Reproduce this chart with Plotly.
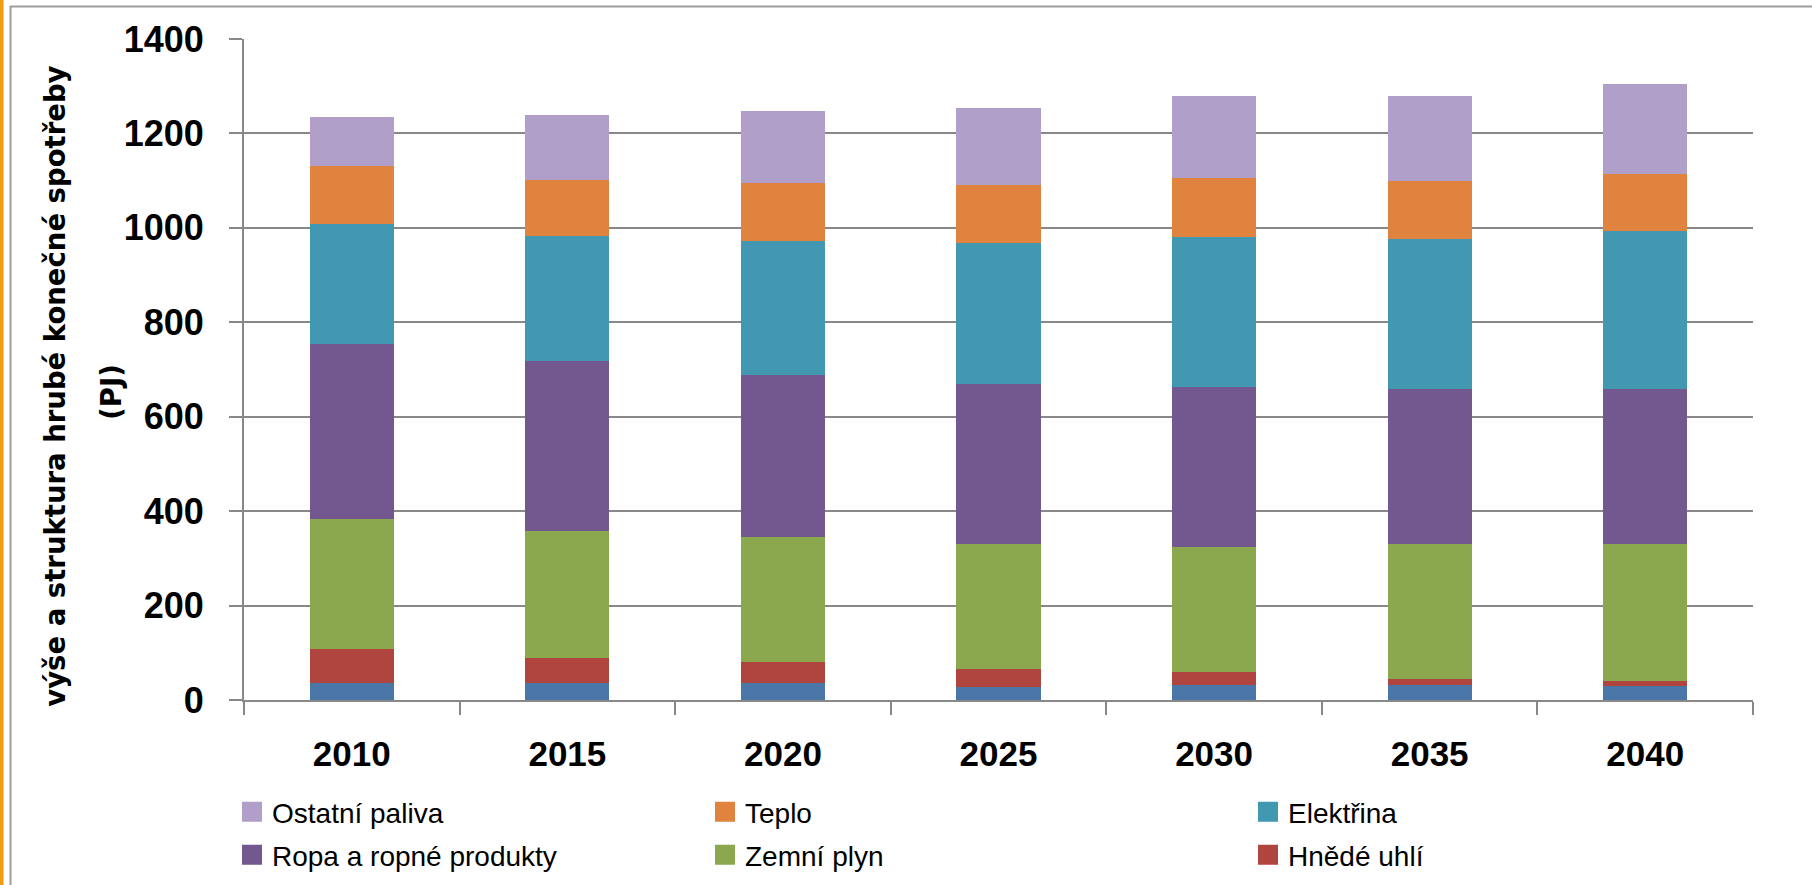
import plotly.graph_objects as go

# Years on the category axis
years = ["2010", "2015", "2020", "2025", "2030", "2035", "2040"]

# Segment heights in PJ, stacked bottom to top
cerne_uhli = [35, 35, 35, 27, 32, 32, 30]
hnede_uhli = [74, 54, 45, 39, 28, 13, 11]
zemni_plyn = [274, 270, 265, 264, 265, 286, 290]
ropa = [371, 360, 344, 339, 337, 327, 327]
elektrina = [254, 264, 284, 299, 319, 319, 336]
teplo = [124, 118, 123, 123, 125, 122, 121]
ostatni = [102, 138, 152, 162, 174, 181, 190]

y_ticks = [0, 200, 400, 600, 800, 1000, 1200, 1400]

W, H = 1812, 885
PL, PR, PT, PB = 244, 1753, 39, 700.5   # plot area in pixels

GRID = "#888888"
FONT = "Liberation Sans"

# legend grid: column left edges and row centres (px)
LEG_COLS = [232, 705, 1248]
LEG_ROWS = [812, 855]

# name, values, colour, (column, row) of the legend key
series = [
    ("Černé uhlí", cerne_uhli, "#4A76A8", None),
    ("Hnědé uhlí", hnede_uhli, "#B0443F", (2, 1)),
    ("Zemní plyn", zemni_plyn, "#8CA84E", (1, 1)),
    ("Ropa a ropné produkty", ropa, "#72588F", (0, 1)),
    ("Elektřina", elektrina, "#4297B1", (2, 0)),
    ("Teplo", teplo, "#DF833E", (1, 0)),
    ("Ostatní paliva", ostatni, "#B09FC8", (0, 0)),
]

fig = go.Figure()
for name, vals, color, pos in series:
    fig.add_trace(go.Bar(
        x=years, y=vals, name=name, marker=dict(color=color, line=dict(width=0)),
        showlegend=False, hoverinfo="x+y+name",
    ))

# one single-entry legend per key, so each sits in its own grid cell
legends = {}
k = 0
for name, vals, color, pos in series:
    if pos is None:
        continue
    k += 1
    lid = "legend" if k == 1 else f"legend{k}"
    col, row = pos
    legends[lid] = dict(
        orientation="h", xref="container", yref="container",
        x=LEG_COLS[col] / W, y=1 - LEG_ROWS[row] / H,
        xanchor="left", yanchor="middle",
        bgcolor="rgba(0,0,0,0)", itemsizing="trace",
        font=dict(family=FONT, size=28, color="#000000"),
    )
    fig.add_trace(go.Scatter(
        x=[None], y=[None], mode="markers", name=name, legend=lid,
        marker=dict(symbol="square", size=16, color=color, line=dict(width=4, color=color)),
        showlegend=True,
    ))


def px_x(p):
    return (p - PL) / (PR - PL)


def px_y(p):
    return (PB - p) / (PB - PT)


fig.update_layout(
    width=W, height=H,
    margin=dict(l=PL, r=W - PR, t=PT, b=H - PB, pad=0, autoexpand=False),
    paper_bgcolor="white", plot_bgcolor="white",
    barmode="stack", bargap=0.61,
    showlegend=True,
    xaxis=dict(
        type="category", showgrid=False, showline=True, linecolor=GRID, linewidth=2,
        ticks="outside", tickson="boundaries", ticklen=13, tickcolor=GRID, tickwidth=2,
        tickfont=dict(family=FONT, size=35, color="#000000", weight="bold"),
        ticklabelstandoff=22, automargin=False, tickangle=0,
    ),
    yaxis=dict(
        range=[0, 1400], tickvals=y_ticks, showgrid=True, gridcolor=GRID, gridwidth=2,
        showline=True, linecolor=GRID, linewidth=2, zeroline=False,
        ticks="outside", ticklen=13, tickcolor=GRID, tickwidth=2,
        tickfont=dict(family=FONT, size=36, color="#000000", weight="bold"),
        ticklabelstandoff=18, automargin=False,
    ),
    **legends,
)

# y-axis title, two lines
title_font = dict(family="DejaVu Sans", size=27.5, color="#000000", weight="bold")
fig.add_annotation(
    text="výše a struktura hrubé konečné spotřeby", textangle=-90,
    xref="paper", yref="paper", x=px_x(55), y=px_y(387), xanchor="center", yanchor="middle",
    showarrow=False, font=title_font,
)
fig.add_annotation(
    text="(PJ)", textangle=-90,
    xref="paper", yref="paper", x=px_x(111), y=px_y(392), xanchor="center", yanchor="middle",
    showarrow=False, font=title_font,
)

# outer frame and orange edge
fig.add_shape(type="line", xref="paper", yref="paper",
              x0=px_x(10), x1=px_x(W + 5), y0=px_y(6.5), y1=px_y(6.5),
              line=dict(color="#9E9E9E", width=2), layer="above")
fig.add_shape(type="line", xref="paper", yref="paper",
              x0=px_x(10.5), x1=px_x(10.5), y0=px_y(6), y1=px_y(H + 5),
              line=dict(color="#9E9E9E", width=2), layer="above")
fig.add_shape(type="rect", xref="paper", yref="paper",
              x0=px_x(-1), x1=px_x(3.5), y0=px_y(-1), y1=px_y(H + 1),
              fillcolor="#F39A12", line=dict(width=0), layer="above")

fig.write_html("out.html")
